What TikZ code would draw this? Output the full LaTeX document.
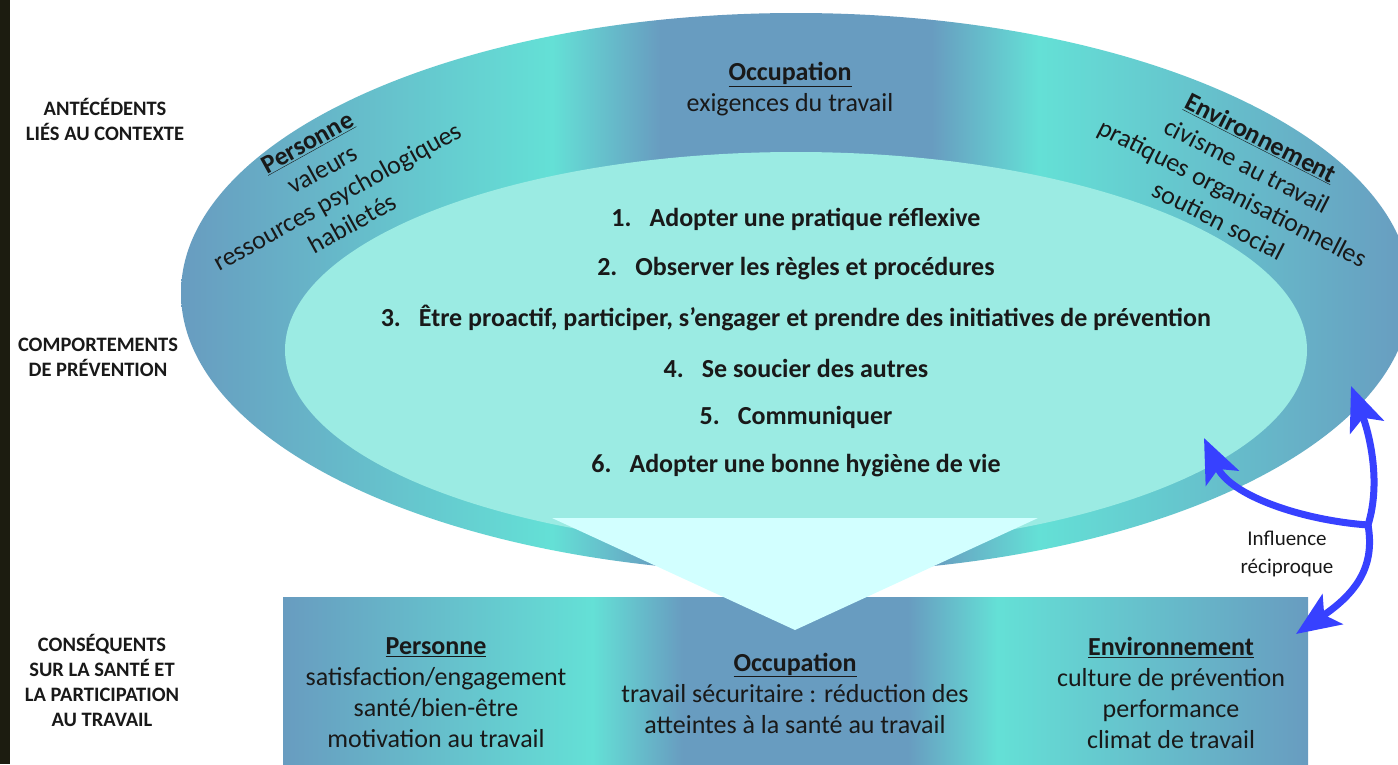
\documentclass[tikz,border=0pt]{standalone}
\usepackage{fontspec}
\setmainfont{Carlito}
\usetikzlibrary{arrows.meta}
\definecolor{sb}{RGB}{104,156,192}
\definecolor{cy}{RGB}{100,224,214}
\definecolor{innerc}{RGB}{155,235,227}
\definecolor{tric}{RGB}{210,255,255}
\definecolor{arrc}{RGB}{55,65,255}
\definecolor{stripc}{RGB}{28,28,16}
\pgfdeclarehorizontalshading{band}{100bp}{color(0bp)=(sb); color(25bp)=(sb); color(40.1bp)=(cy); color(44.5bp)=(sb); color(55.5bp)=(sb); color(59.85bp)=(cy); color(75bp)=(sb); color(100bp)=(sb)}
\tikzset{
  txt/.style={font=\fontsize{26}{31}\selectfont, align=center, inner sep=0pt, text=black!90},
  item/.style={font=\fontsize{26}{31}\selectfont\bfseries, inner sep=0pt, text=black!90},
  side/.style={font=\fontsize{20.5}{25}\selectfont\bfseries, align=center, inner sep=0pt, text=black!90},
  arrowline/.style={draw=arrc, line width=7pt, -{Stealth[length=44pt,width=36pt,inset=10pt]}},
}
\newcommand{\hd}[1]{\textbf{\underline{#1}}}
\begin{document}
\begin{tikzpicture}[x=1pt,y=-1pt]
\useasboundingbox (0,0) rectangle (1398,764);
\fill[white] (0,0) rectangle (1398,764);
\begin{scope}
\clip (0,0) rectangle (1398,764);
% outer ellipse
\shade[shading=band] (796,293) ellipse [x radius=615, y radius=280];
% inner ellipse
\fill[innerc] (796,350) ellipse [x radius=511, y radius=198];
% bottom band
\shade[shading=band] (283,597) rectangle (1308,790);
% triangle
\fill[tric] (552,518) -- (1038,518) -- (795,630) -- cycle;
\end{scope}
\fill[stripc] (0,0) rectangle (10,764);

% side labels
\node[side] (s1) at (105,119) {ANTÉCÉDENTS\\LIÉS AU CONTEXTE};
\node[side] (s2) at (98,357) {COMPORTEMENTS\\DE PRÉVENTION};
\node[side] (s3) at (102,680) {CONSÉQUENTS\\SUR LA SANTÉ ET\\LA PARTICIPATION\\AU TRAVAIL};

% top antecedents
\node[txt] (occ) at (790,89) {\hd{Occupation}\\exigences du travail};
\node[txt, rotate=29] (pers) at (330,183) {\hd{Personne}\\valeurs\\ressources psychologiques\\habiletés};
\node[txt, rotate=-27] (env) at (1240,179) {\hd{Environnement}\\civisme au travail\\pratiques organisationnelles\\soutien social};

% behaviours
\node[item] (l1) at (796,219) {1.\hspace{18pt}Adopter une pratique réflexive};
\node[item] (l2) at (796,269) {2.\hspace{18pt}Observer les règles et procédures};
\node[item] (l3) at (796,318) {3.\hspace{18pt}Être proactif, participer, s’engager et prendre des initiatives de prévention};
\node[item] (l4) at (796,368) {4.\hspace{18pt}Se soucier des autres};
\node[item] (l5) at (796,417) {5.\hspace{18pt}Communiquer};
\node[item] (l6) at (796,466) {6.\hspace{18pt}Adopter une bonne hygiène de vie};

% consequences
\node[txt] (bp) at (436,693) {\hd{Personne}\\satisfaction/engagement\\santé/bien-être\\motivation au travail};
\node[txt] (bo) at (795,693) {\hd{Occupation}\\travail sécuritaire : réduction des\\atteintes à la santé au travail};
\node[txt] (be) at (1171,693) {\hd{Environnement}\\culture de prévention\\performance\\climat de travail};

% reciprocal influence
\node[font=\fontsize{21}{28}\selectfont, align=center, inner sep=0pt, text=black!90] (inf) at (1287,554) {Influence\\réciproque};
\coordinate (J) at (1368,525);
\coordinate (tU) at (1351,386);
\coordinate (tL) at (1204,438);
\coordinate (tD) at (1296,634);
\draw[arrowline] (J) .. controls (1382,480) and (1368,430) .. (tU);
\draw[arrowline] (J) .. controls (1300,520) and (1230,495) .. (tL);
\draw[arrowline] (J) .. controls (1375,565) and (1358,592) .. (tD);
\end{tikzpicture}
\end{document}
